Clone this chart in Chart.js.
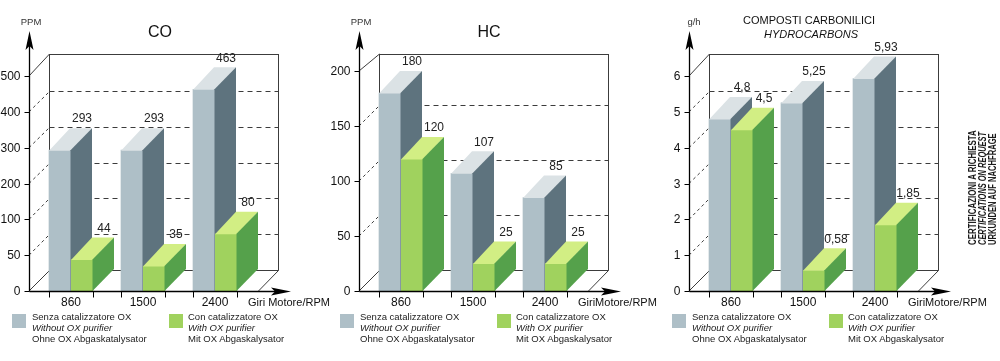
<!DOCTYPE html>
<html>
<head>
<meta charset="utf-8">
<script src="https://cdn.jsdelivr.net/npm/chart.js@4.4.0/dist/chart.umd.min.js"></script>
<style>
  body { margin: 0; width: 1000px; height: 361px; background: #fff; position: relative; overflow: hidden;
         font-family: "Liberation Sans", Arial, sans-serif; }
  canvas { position: absolute; top: 0; }
  .sw { position: absolute; top: 314px; width: 14px; height: 14px; }
  .lg { position: absolute; top: 311px; font-size: 9.5px; line-height: 11px; color: #222; white-space: nowrap; }
  .lg i { font-style: italic; }
  .cert { position: absolute; left: 967px; top: 245px; transform-origin: 0 0; transform: rotate(-90deg);
          font-family: "Liberation Sans Narrow", "Liberation Sans", Arial, sans-serif; font-weight: bold;
          font-size: 11px; line-height: 10px; color: #1a1a1a; white-space: nowrap; }
  .cert div { transform-origin: 0 0; width: max-content; }
</style>
</head>
<body>
<canvas id="co" width="330" height="361" style="left:0px"></canvas>
<canvas id="hc" width="330" height="361" style="left:330px"></canvas>
<canvas id="carb" width="340" height="361" style="left:660px"></canvas>
<div id="legends"></div>
<div class="cert">
  <div>CERTIFICAZIONI A RICHIESTA</div>
  <div><i>CERTIFICATIONS ON REQUEST</i></div>
  <div>URKUNDEN AUF NACHFRAGE</div>
</div>
<script>
// ---- data ----
const rpmLabels = ['860', '1500', '2400'];

const coWithout = [293, 293, 463];
const coWith = [44, 35, 80];
const coTicks = [0, 50, 100, 200, 300, 400, 500];

const hcWithout = [180, 107, 85];
const hcWith = [120, 25, 25];
const hcTicks = [0, 50, 100, 150, 200];

const carbWithout = [4.8, 5.25, 5.93];
const carbWith = [4.5, 0.58, 1.85];
const carbTicks = [0, 1, 2, 3, 4, 5, 6];

// ---- look ----
const DX = 21, DY = 22;      // bar depth
const WX = 20, WY = 21;      // back wall depth
const WALL_TOP = 54;
const GRAY = { front: '#aebfc7', top: '#dbe2e5', side: '#5e737e' };
const GREEN = { front: '#a0d25e', top: '#d2ee84', side: '#55a14b' };
const FONT = '"Liberation Sans", Arial, sans-serif';

// y scale with evenly spaced, possibly uneven, steps (CO axis: 0 50 100 200 ...)
class StepScale extends Chart.LinearScale {
  buildTicks() {
    this.start = this.min;
    this.end = this.max;
    return this.options.stops.map(v => ({ value: v }));
  }
  getPixelForValue(v) {
    const s = this.options.stops, n = s.length - 1;
    let i = 0;
    while (i < n - 1 && v > s[i + 1]) i++;
    return this.getPixelForDecimal((i + (v - s[i]) / (s[i + 1] - s[i])) / n);
  }
  getValueForPixel(p) {
    const s = this.options.stops, n = s.length - 1;
    const d = this.getDecimalForPixel(p) * n;
    const i = Math.max(0, Math.min(n - 1, Math.floor(d)));
    return s[i] + (d - i) * (s[i + 1] - s[i]);
  }
}
StepScale.id = 'step';
StepScale.defaults = {};
Chart.register(StepScale);

function fmt(v) { return String(v).replace('.', ','); }

function line(ctx, x1, y1, x2, y2, dash) {
  ctx.setLineDash(dash || []);
  ctx.beginPath();
  ctx.moveTo(x1, y1);
  ctx.lineTo(x2, y2);
  ctx.stroke();
}

function poly(ctx, pts, fill) {
  ctx.beginPath();
  ctx.moveTo(pts[0][0], pts[0][1]);
  for (let k = 1; k < pts.length; k++) ctx.lineTo(pts[k][0], pts[k][1]);
  ctx.closePath();
  ctx.fillStyle = fill;
  ctx.fill();
}

function prism(ctx, el, c) {
  const p = el.getProps(['x', 'y', 'base', 'width'], true);
  const l = p.x - p.width / 2, r = p.x + p.width / 2;
  ctx.fillStyle = c.front;
  ctx.fillRect(l, p.y, p.width, p.base - p.y);
  poly(ctx, [[l, p.y + 0.5], [r, p.y + 0.5], [r + DX, p.y - DY], [l + DX, p.y - DY]], c.top);
  poly(ctx, [[r - 0.5, p.y], [r + DX, p.y - DY], [r + DX, p.base - DY], [r - 0.5, p.base]], c.side);
  return p;
}

const box3d = {
  id: 'box3d',
  beforeDatasetsDraw(chart) {
    const ctx = chart.ctx, ys = chart.scales.y;
    const { left, right, bottom } = chart.chartArea;
    const ax = left - 6, wl = ax + WX + 0.5, wr = right + 27.5, fb = bottom - WY + 0.5;
    ctx.save();
    ctx.strokeStyle = '#3c3c3c';
    ctx.lineWidth = 1;
    line(ctx, wl, WALL_TOP + 0.5, wr, WALL_TOP + 0.5);
    line(ctx, wl, WALL_TOP, wl, fb);
    line(ctx, wr, WALL_TOP, wr, fb);
    line(ctx, wl, fb, wr, fb);
    line(ctx, wr, fb, wr - WX, bottom);
    const ticks = ys.ticks;
    ticks.forEach((t, k) => {
      const py = ys.getPixelForValue(t.value);
      if (k === 0) {
        line(ctx, ax, py, wl, fb);
      } else if (k === ticks.length - 1) {
        line(ctx, ax, py, wl, WALL_TOP);
      } else {
        const gy = Math.round(py - WY) + 0.5;
        line(ctx, ax, py, wl, gy, [3, 3]);
        line(ctx, wl, gy, wr, gy, [5, 4]);
      }
    });
    ctx.restore();
  },
  afterDatasetsDraw(chart, args, o) {
    const ctx = chart.ctx;
    const m0 = chart.getDatasetMeta(0), m1 = chart.getDatasetMeta(1);
    ctx.save();
    const tops = [];
    m0.data.forEach((el, i) => {
      tops.push(prism(ctx, el, GRAY));
      tops.push(prism(ctx, m1.data[i], GREEN));
    });
    ctx.fillStyle = '#222';
    ctx.font = '12px ' + FONT;
    ctx.textAlign = 'center';
    ctx.textBaseline = 'middle';
    const vals = [];
    chart.data.datasets[0].data.forEach((v, i) => vals.push(v, chart.data.datasets[1].data[i]));
    tops.forEach((p, k) => ctx.fillText(fmt(vals[k]), p.x + DX + 1, p.y - DY - 9));
    ctx.restore();
  },
  afterDraw(chart, args, o) {
    const ctx = chart.ctx, ys = chart.scales.y, xs = chart.scales.x;
    const { left, right, bottom } = chart.chartArea;
    const ax = left - 6 + 0.5, by = bottom + 0.5;
    ctx.save();
    ctx.strokeStyle = '#000';
    ctx.lineWidth = 1.3;
    line(ctx, ax, by, ax, 46);
    poly(ctx, [[ax, 31], [ax - 4, 50], [ax, 46], [ax + 4, 50]], '#000');
    line(ctx, ax, by, right + 24, by);
    poly(ctx, [[right + 40, by], [right + 20, by - 4], [right + 24, by], [right + 20, by + 4]], '#000');

    ctx.lineWidth = 1;
    ctx.fillStyle = '#111';
    ctx.font = '12px ' + FONT;
    ctx.textAlign = 'right';
    ctx.textBaseline = 'middle';
    ys.ticks.forEach(t => {
      const py = Math.round(ys.getPixelForValue(t.value)) + 0.5;
      line(ctx, ax - 5, py, ax, py);
      ctx.fillText(fmt(t.value), ax - 9, py);
    });

    const m0 = chart.getDatasetMeta(0), m1 = chart.getDatasetMeta(1);
    ctx.textAlign = 'center';
    chart.data.labels.forEach((lab, i) => {
      const g = m0.data[i].getProps(['x', 'width'], true);
      const v = m1.data[i].getProps(['x', 'width'], true);
      const xl = Math.round(g.x - g.width / 2) + 0.5, xr = Math.round(v.x + v.width / 2) + 0.5;
      line(ctx, xl, by, xl, by + 6);
      line(ctx, xr, by, xr, by + 6);
      ctx.fillText(lab, xs.getPixelForValue(i), bottom + 12);
    });

    ctx.font = '11px ' + FONT;
    ctx.textAlign = 'left';
    ctx.fillText(o.xTitle, right - 3, bottom + 12);

    ctx.fillStyle = '#333';
    ctx.font = '9.5px ' + FONT;
    ctx.textAlign = 'center';
    ctx.fillText(o.unit, o.unitX, 22);

    ctx.fillStyle = '#111';
    if (o.subtitle) {
      ctx.font = '11px ' + FONT;
      ctx.fillText(o.title, o.titleX, 21);
      ctx.font = 'italic 11px ' + FONT;
      ctx.fillText(o.subtitle, o.titleX + 2, 35);
    } else {
      ctx.font = '16px ' + FONT;
      ctx.fillText(o.title, o.titleX, 33);
    }
    ctx.restore();
  }
};

function makePanel(id, without, withCat, ticks, top, padRight, texts) {
  return new Chart(document.getElementById(id), {
    type: 'bar',
    data: {
      labels: rpmLabels,
      datasets: [
        { label: 'Senza catalizzatore OX', data: without, backgroundColor: GRAY.front, barThickness: 22 },
        { label: 'Con catalizzatore OX', data: withCat, backgroundColor: GREEN.front, barThickness: 22 }
      ]
    },
    options: {
      responsive: false,
      animation: false,
      devicePixelRatio: 1,
      events: [],
      layout: { padding: { left: 35, right: padRight, top: top, bottom: 70 } },
      scales: {
        x: { display: false },
        y: { type: 'step', display: false, min: 0, max: ticks[ticks.length - 1], stops: ticks }
      },
      plugins: {
        legend: { display: false },
        tooltip: { enabled: false },
        box3d: texts
      }
    },
    plugins: [box3d]
  });
}

makePanel('co', coWithout, coWith, coTicks, 76, 79,
  { title: 'CO', titleX: 160, unit: 'PPM', unitX: 31, xTitle: 'Giri Motore/RPM' });
makePanel('hc', hcWithout, hcWith, hcTicks, 71, 79,
  { title: 'HC', titleX: 159, unit: 'PPM', unitX: 31, xTitle: 'GiriMotore/RPM' });
makePanel('carb', carbWithout, carbWith, carbTicks, 76, 89,
  { title: 'COMPOSTI CARBONILICI', subtitle: 'HYDROCARBONS', titleX: 149, unit: 'g/h', unitX: 34, xTitle: 'GiriMotore/RPM' });

// legends under each panel
const legendHost = document.getElementById('legends');
[0, 328, 660].forEach(ox => {
  legendHost.insertAdjacentHTML('beforeend',
    `<div class="sw" style="left:${ox + 12}px;background:${GRAY.front}"></div>
     <div class="lg" style="left:${ox + 32}px">Senza catalizzatore OX<br><i>Without OX purifier</i><br>Ohne OX Abgaskatalysator</div>
     <div class="sw" style="left:${ox + 169}px;background:${GREEN.front}"></div>
     <div class="lg" style="left:${ox + 188}px">Con catalizzatore OX<br><i>With OX purifier</i><br>Mit OX Abgaskalysator</div>`);
});

// squeeze the vertical note to the length it has in the picture
const certLens = [115, 113, 112];
document.querySelectorAll('.cert > div').forEach((d, k) => {
  d.style.transform = 'scaleX(' + (certLens[k] / d.offsetWidth) + ')';
});
</script>
</body>
</html>
